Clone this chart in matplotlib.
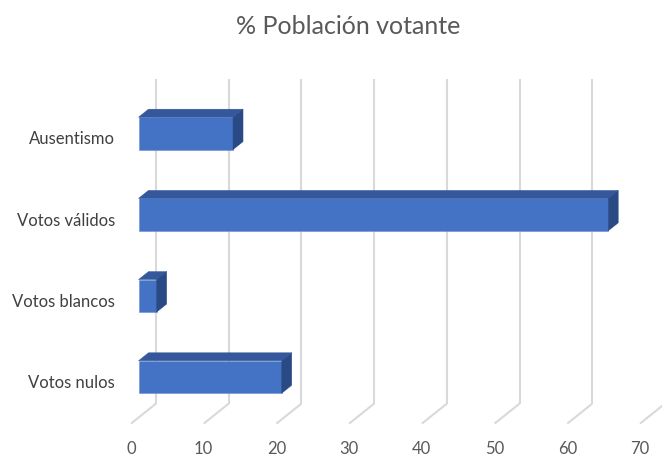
import matplotlib
matplotlib.use("Agg")
import matplotlib.pyplot as plt
from matplotlib.patches import Polygon

categories = ["Votos nulos", "Votos blancos", "Votos válidos", "Ausentismo"]
values = [19.7, 2.5, 64.6, 13.0]
ticks = [0, 10, 20, 30, 40, 50, 60, 70]
title = "% Población votante"

W, H = 662, 457
fig = plt.figure(figsize=(W / 100, H / 100), dpi=100)
ax = fig.add_axes([0, 0, 1, 1])
ax.set_axis_off()

# pixel mapping (front plane): x=0 -> 131 px, 10 units = 72.71 px; category i -> 383 - 81.2*i px (from top)
pxu = 509 / 70.0
x0 = 131
pyu = 81.2
y0 = 383
ax.set_xlim(-x0 / pxu, (W - x0) / pxu)
ax.set_ylim((y0 - H) / pyu, y0 / pyu)

# depth offsets (full depth)
DX = 25 / pxu
DY = 20 / pyu

grid_c = "#d9d9d9"
ymin, ymax = -0.5, 3.5
for t in ticks:
    ax.plot([t + DX, t + DX], [ymin + DY, ymax + DY], color=grid_c, lw=1.5, zorder=1, solid_capstyle="butt")
    ax.plot([t, t + DX], [ymin, ymin + DY], color=grid_c, lw=1.5, zorder=1, solid_capstyle="butt")
    ax.text(t, (y0 - 449) / pyu, str(t), ha="center", va="center", fontsize=12,
            color="#595959", family="Lato")

d0, d1 = 0.30, 0.70
bh = 0.4
front_c = "#4472c4"
top_c = "#34589b"
side_c = "#294a84"
ys = list(range(len(categories)))
fx = d0 * DX
fy = d0 * DY
ddx = (d1 - d0) * DX
ddy = (d1 - d0) * DY
ax.barh([y + fy for y in ys], values, height=bh, left=fx, color=front_c, zorder=3,
        edgecolor="#6a8fd4", linewidth=0.4)
for y, v in zip(ys, values):
    bot = y + fy - bh / 2
    top = y + fy + bh / 2
    left = fx
    right = fx + v
    ax.add_patch(Polygon([(left, top), (right, top), (right + ddx, top + ddy), (left + ddx, top + ddy)],
                         closed=True, facecolor=top_c, edgecolor=top_c, lw=0.3, zorder=3))
    ax.add_patch(Polygon([(right, bot), (right + ddx, bot + ddy), (right + ddx, top + ddy), (right, top)],
                         closed=True, facecolor=side_c, edgecolor=side_c, lw=0.3, zorder=3))

for y, c in zip(ys, categories):
    ax.text((115 - x0) / pxu, y, c, ha="right", va="center", fontsize=12, color="#404040", family="Lato")

ax.text((348 - x0) / pxu, (y0 - 27) / pyu, title, ha="center", va="center", fontsize=18,
        color="#595959", family="Lato")

fig.savefig("out.png", dpi=100)
